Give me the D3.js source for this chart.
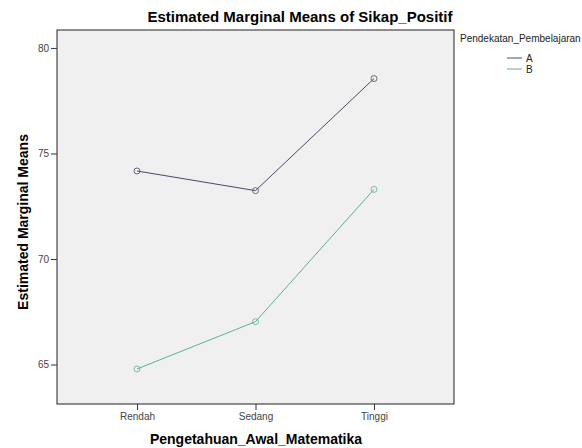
<!DOCTYPE html>
<html>
<head>
<meta charset="utf-8">
<script src="https://cdn.jsdelivr.net/npm/d3@7"></script>
<style>
  body { margin: 0; background: #fff; }
  svg { font-family: Arial, "Liberation Sans", sans-serif; }
</style>
</head>
<body>
<div id="chart"></div>
<script>
var categories = ["Rendah", "Sedang", "Tinggi"];
var seriesNames = ["A", "B"];
var valuesA = [74.17, 73.24, 78.55];
var valuesB = [64.79, 67.03, 73.3];
var yTicks = [65, 70, 75, 80];
var colors = ["#4a4a68", "#5fae98"];

var width = 582, height = 448;
var plot = {left: 57, top: 30, right: 454, bottom: 404};

var svg = d3.select("#chart").append("svg")
    .attr("width", width)
    .attr("height", height);

var x = d3.scalePoint()
    .domain(categories)
    .range([plot.left, plot.right])
    .padding(0.675);

var y = d3.scaleLinear()
    .domain([63.13, 80.85])
    .range([plot.bottom, plot.top]);

// plot background
svg.append("rect")
    .attr("x", plot.left)
    .attr("y", plot.top)
    .attr("width", plot.right - plot.left)
    .attr("height", plot.bottom - plot.top)
    .attr("fill", "#f0f0f0")
    .attr("stroke", "#222")
    .attr("stroke-width", 1);

// y axis
var yAxis = svg.append("g")
    .attr("transform", "translate(" + plot.left + ",0)")
    .call(d3.axisLeft(y).tickValues(yTicks).tickSize(6).tickPadding(2));
yAxis.select(".domain").remove();
yAxis.selectAll("text").attr("font-size", 10).attr("fill", "#444").attr("font-family", "Arial, sans-serif");
yAxis.selectAll("line").attr("stroke", "#333");

// x axis
var xAxis = svg.append("g")
    .attr("transform", "translate(0," + plot.bottom + ")")
    .call(d3.axisBottom(x).tickSize(6).tickPadding(3));
xAxis.select(".domain").remove();
xAxis.selectAll("text").attr("font-size", 10).attr("fill", "#444").attr("font-family", "Arial, sans-serif");
xAxis.selectAll("line").attr("stroke", "#333");

// lines
var line = d3.line()
    .x(function(d, i){ return x(categories[i]); })
    .y(function(d){ return y(d); });

[valuesA, valuesB].forEach(function(vals, k){
    svg.append("path")
        .datum(vals)
        .attr("d", line)
        .attr("fill", "none")
        .attr("stroke", colors[k])
        .attr("stroke-width", 1);

    svg.selectAll(".pt" + k)
        .data(vals)
        .enter().append("circle")
        .attr("cx", function(d, i){ return x(categories[i]); })
        .attr("cy", function(d){ return y(d); })
        .attr("r", 3)
        .attr("fill", "none")
        .attr("stroke", colors[k])
        .attr("stroke-width", 0.8);
});

// title
svg.append("text")
    .attr("x", 300)
    .attr("y", 22)
    .attr("text-anchor", "middle")
    .attr("font-size", 15)
    .attr("font-weight", "bold")
    .text("Estimated Marginal Means of Sikap_Positif");

// axis titles
svg.append("text")
    .attr("x", 256)
    .attr("y", 444)
    .attr("text-anchor", "middle")
    .attr("font-size", 14)
    .attr("font-weight", "bold")
    .text("Pengetahuan_Awal_Matematika");

svg.append("text")
    .attr("transform", "translate(28,222) rotate(-90)")
    .attr("text-anchor", "middle")
    .attr("font-size", 14)
    .attr("font-weight", "bold")
    .text("Estimated Marginal Means");

// legend
svg.append("text")
    .attr("x", 460)
    .attr("y", 42)
    .attr("font-size", 10)
    .attr("fill", "#222")
    .text("Pendekatan_Pembelajaran");

var leg = svg.selectAll(".leg")
    .data(seriesNames)
    .enter().append("g")
    .attr("transform", function(d, i){ return "translate(507," + (58 + i * 11) + ")"; });
leg.append("line")
    .attr("x1", 0).attr("x2", 15)
    .attr("stroke", function(d, i){ return colors[i]; });
leg.append("text")
    .attr("x", 19)
    .attr("y", 4)
    .attr("font-size", 10)
    .attr("fill", "#222")
    .text(function(d){ return d; });
</script>
</body>
</html>
